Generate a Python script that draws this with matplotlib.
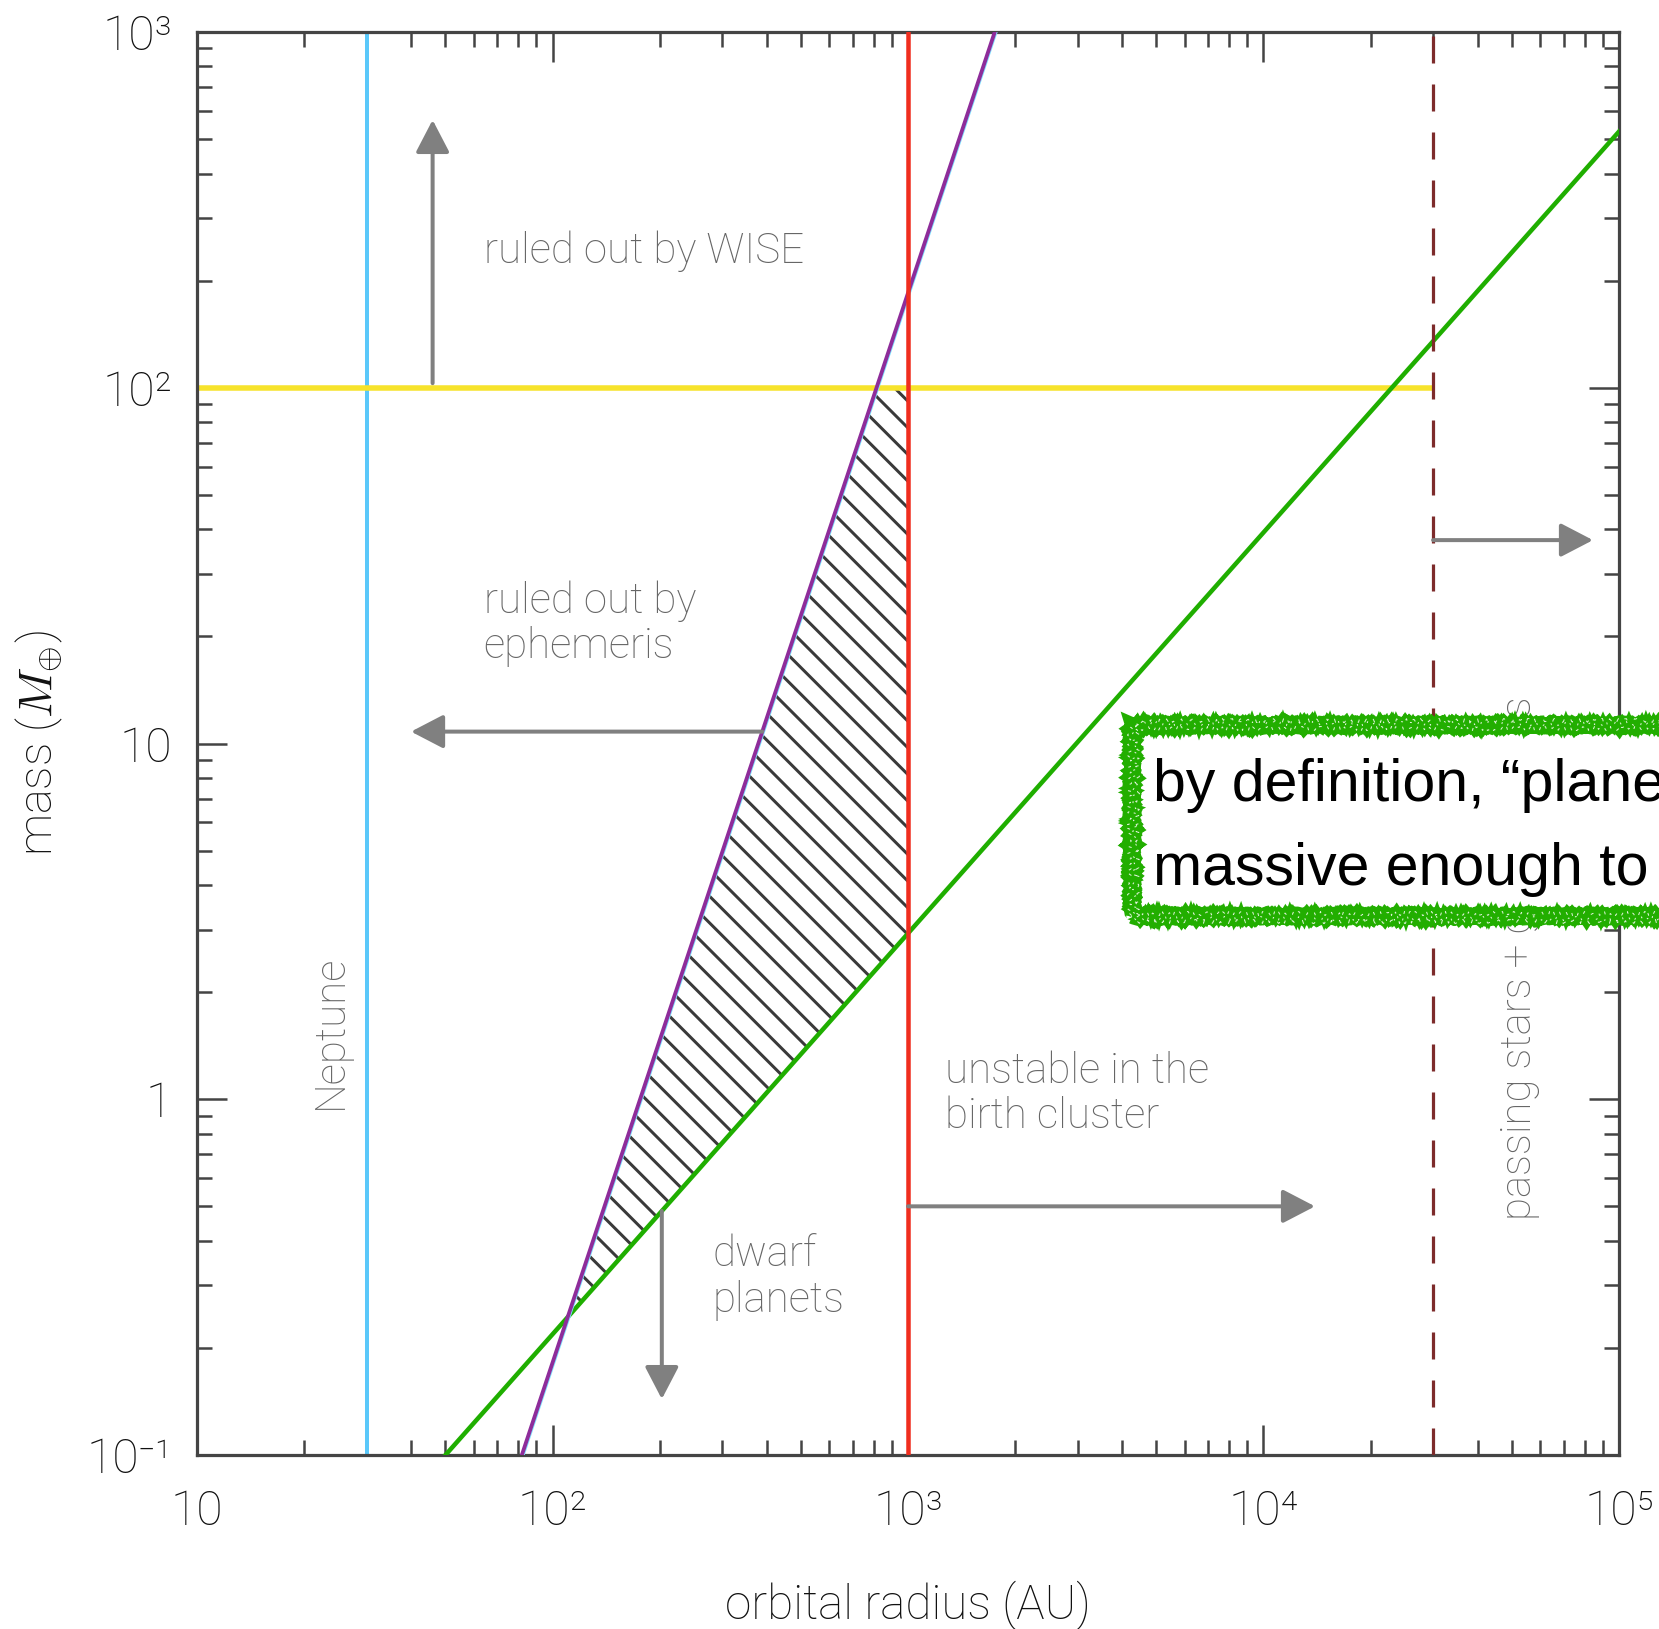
import numpy as np
import matplotlib
matplotlib.use("Agg")
import matplotlib.pyplot as plt
import matplotlib.patheffects as pe
from matplotlib.patches import Rectangle
from matplotlib.ticker import FixedLocator, FixedFormatter, LogLocator, NullFormatter

# ---------------- data ----------------
neptune_r = 30.0          # AU
cluster_r = 1000.0        # birth-cluster stability limit (AU)
passing_r = 3.0e4         # passing stars + galactic tides (AU)
wise_m = 100.0            # WISE limit (Earth masses)
wise_r = [10.0, 3.0e4]

ephem_r = [82.0, 1754.0]  # ephemeris constraint line
ephem_m = [0.1, 1000.0]
clear_r = [50.0, 1.0e5]   # orbit-clearing line
clear_m = [0.1, 525.0]

arrow_wise_x, arrow_wise_m = 46.0, [103.0, 566.0]
arrow_ephem_m, arrow_ephem_tip = 10.8, 40.0
arrow_cluster_m, arrow_cluster_tip = 0.5, 13960.0
arrow_dwarf_r, arrow_dwarf_tip = 203.0, 0.1436
arrow_pass_m, arrow_pass_tip = 37.3, 84500.0

xticks = [10, 100, 1000, 1e4, 1e5]
xticklabels = ["10", "10²", "10³", "10⁴", "10⁵"]
yticks = [0.1, 1, 10, 100, 1000]
yticklabels = ["10⁻¹", "1", "10", "10²", "10³"]

# ---------------- style ----------------
DPI = 80
def px(v):
    return v * 72.0 / DPI

plt.rcParams["font.family"] = ["Roboto", "DejaVu Sans"]
plt.rcParams["mathtext.fontset"] = "cm"
plt.rcParams["hatch.color"] = "#3a3a3a"
plt.rcParams["hatch.linewidth"] = px(3.0)
plt.rcParams["lines.scale_dashes"] = False

GRAY_TXT = "#666666"
ARROW = "#808080"
AXC = "#444444"

fig = plt.figure(figsize=(1659 / DPI, 1629 / DPI), dpi=DPI)
ax = fig.add_axes([197 / 1659, 1 - 1455 / 1629, 1422 / 1659, 1423 / 1629])
ax.set_xscale("log")
ax.set_yscale("log")
ax.set_xlim(10, 1e5)
ax.set_ylim(0.1, 1000)

# helper: straight lines in log-log space
def loglin(xs, ys):
    lx, ly = np.log10(xs), np.log10(ys)
    b = (ly[1] - ly[0]) / (lx[1] - lx[0])
    a = ly[0] - b * lx[0]
    return a, b

a_e, b_e = loglin(ephem_r, ephem_m)
a_c, b_c = loglin(clear_r, clear_m)
r_of_ephem = lambda m: 10 ** ((np.log10(m) - a_e) / b_e)
m_of_clear = lambda r: 10 ** (a_c + b_c * np.log10(r))

# hatched allowed region
lr_int = (a_c - a_e) / (b_e - b_c)
r_int, m_int = 10 ** lr_int, 10 ** (a_c + b_c * lr_int)
poly_r = [r_int, r_of_ephem(wise_m), cluster_r, cluster_r]
poly_m = [m_int, wise_m, wise_m, m_of_clear(cluster_r)]
ax.fill(poly_r, poly_m, facecolor="none", edgecolor="#3a3a3a", hatch="\\", linewidth=0, zorder=1)

# constraint lines
ax.axvline(neptune_r, color="#5AC8FA", lw=px(4), zorder=2)
ax.plot(wise_r, [wise_m, wise_m], color="#F7E32B", lw=px(5.5), zorder=2, solid_capstyle="butt")
ax.plot(clear_r, clear_m, color="#1FAE00", lw=px(4.5), zorder=3)
ax.plot(ephem_r, ephem_m, color="#8E2C9A", lw=px(3.8), zorder=3,
        path_effects=[pe.Stroke(linewidth=px(3), foreground="#7fe0ff", offset=(1.2, 0)), pe.Normal()])
ax.axvline(cluster_r, color="#F02D1E", lw=px(4.5), zorder=4)
ax.axvline(passing_r, color="#7d2b2b", lw=px(3.2), zorder=4, dashes=(px(27), px(21)))

# arrows
def arrow(xy_tip, xy_start):
    ax.annotate("", xy=xy_tip, xytext=xy_start,
                arrowprops=dict(arrowstyle="-|>,head_length=2.5,head_width=1.3",
                                mutation_scale=10, color=ARROW, lw=px(4),
                                shrinkA=0, shrinkB=0), zorder=5)

arrow((arrow_wise_x, arrow_wise_m[1]), (arrow_wise_x, arrow_wise_m[0]))
arrow((arrow_ephem_tip, arrow_ephem_m), (r_of_ephem(arrow_ephem_m), arrow_ephem_m))
arrow((arrow_cluster_tip, arrow_cluster_m), (cluster_r, arrow_cluster_m))
arrow((arrow_dwarf_r, arrow_dwarf_tip), (arrow_dwarf_r, m_of_clear(arrow_dwarf_r)))
arrow((arrow_pass_tip, arrow_pass_m), (passing_r, arrow_pass_m))

# annotations
fs_ann = px(42)
kw = dict(color=GRAY_TXT, fontsize=fs_ann, weight="light", linespacing=1.15)
ax.text(64, 242, "ruled out by WISE", ha="left", va="center", **kw)
ax.text(64, 21.7, "ruled out by\nephemeris", ha="left", va="center", **kw)
ax.text(23.8, 1.55, "Neptune", ha="center", va="center", rotation=90, **kw)
ax.text(1271, 1.035, "unstable in the\nbirth cluster", ha="left", va="center", **kw)
ax.text(281, 0.316, "dwarf\nplanets", ha="left", va="center", **kw)
ax.text(52300, 0.458, "passing stars + galactic tides", ha="center", va="bottom", rotation=90, **kw)

# axes styling
for s in ax.spines.values():
    s.set_color(AXC)
    s.set_linewidth(px(3.2))
ax.xaxis.set_major_locator(FixedLocator(xticks))
ax.xaxis.set_major_formatter(FixedFormatter(xticklabels))
ax.yaxis.set_major_locator(FixedLocator(yticks))
ax.yaxis.set_major_formatter(FixedFormatter(yticklabels))
ax.xaxis.set_minor_locator(LogLocator(base=10, subs=np.arange(2, 10)))
ax.yaxis.set_minor_locator(LogLocator(base=10, subs=np.arange(2, 10)))
ax.xaxis.set_minor_formatter(NullFormatter())
ax.yaxis.set_minor_formatter(NullFormatter())
ax.tick_params(which="both", direction="in", top=True, right=True, color=AXC, width=px(2.5))
ax.tick_params(which="major", length=px(30), labelsize=px(48), labelcolor="#111111")
ax.tick_params(which="minor", length=px(15))
ax.tick_params(axis="x", which="major", pad=px(34))
ax.tick_params(axis="y", which="major", pad=px(25))
for lab in ax.get_xticklabels() + ax.get_yticklabels():
    lab.set_fontweight("light")

ax.set_xlabel("orbital radius (AU)", fontsize=px(47.5), color="#111111", weight="light")
ax.xaxis.set_label_coords(0.5, -0.088)
ax.set_ylabel(r"mass ($M_{\oplus}$)", fontsize=px(47), color="#111111", weight="light")
ax.yaxis.set_label_coords(-0.093, 0.5)

# green sketchy call-out box (figure coordinates)
W, H = 1659.0, 1629.0
bx0, by_top, by_bot = 1132.0, 725.0, 916.0
bw, bh = 1720 - bx0, by_bot - by_top
box_bg = Rectangle((bx0 / W, 1 - by_bot / H), bw / W, bh / H,
                   transform=fig.transFigure, facecolor="white", edgecolor="none", zorder=10)
fig.add_artist(box_bg)
GREEN_BOX = "#22AE00"
layers = [(15, (0.8, 3, 3), 0, GREEN_BOX, None),
          (6, (1.5, 2, 5), -5, GREEN_BOX, None),
          (6, (1.5, 2, 5), 5, GREEN_BOX, None),
          (1.0, (2.0, 2, 6), -3, "white", (px(3), px(9))),
          (1.0, (2.0, 2, 6), 2, "white", (px(2), px(11))),
          (1.0, (2.0, 2, 6), 5, "white", (px(4), px(13)))]
for lw, sk, d, col, dash in layers:
    r = Rectangle(((bx0 + d) / W, 1 - (by_bot + d) / H), bw / W, (bh + 2 * d) / H,
                  transform=fig.transFigure, facecolor="none", edgecolor=col,
                  lw=px(lw), zorder=11, alpha=0.85 if col == "white" else 1.0)
    if dash is not None:
        r.set_linestyle((0, dash))
    r.set_sketch_params(*sk)
    fig.add_artist(r)

fig.text(1153 / W, 1 - 801 / H, "by definition, “plane", fontsize=px(59), color="black",
         family=["Liberation Sans", "DejaVu Sans"], ha="left", va="baseline", zorder=12)
fig.text(1153 / W, 1 - 885 / H, "massive enough to", fontsize=px(59), color="black",
         family=["Liberation Sans", "DejaVu Sans"], ha="left", va="baseline", zorder=12)

fig.savefig("out.png", dpi=DPI)
